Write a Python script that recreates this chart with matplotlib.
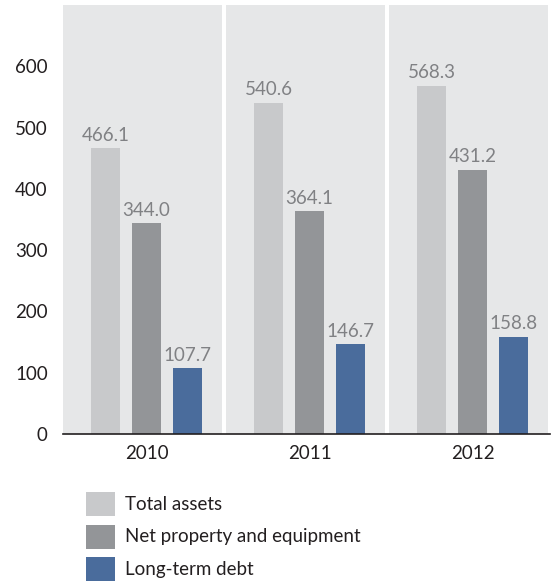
import matplotlib.pyplot as plt
from matplotlib.patches import Rectangle

# data
years = ["2010", "2011", "2012"]
series = ["Total assets", "Net property and equipment", "Long-term debt"]
total_assets = [466.1, 540.6, 568.3]
net_property = [344.0, 364.1, 431.2]
long_term_debt = [107.7, 146.7, 158.8]
yticks = [0, 100, 200, 300, 400, 500, 600]

colors = ["#c8c9cb", "#939598", "#4a6c9c"]
panel_color = "#e6e7e8"
label_color = "#808184"
text_color = "#231f20"
fs = 13.5

plt.rcParams["font.family"] = ["Lato", "DejaVu Sans"]

fig = plt.figure(figsize=(5.55, 5.81), dpi=100)
ax = fig.add_axes([63 / 555, 1 - 434 / 581, 487 / 555, 429 / 581])

# grey panels behind each year
for i in range(len(years)):
    ax.axvspan(i - 0.512, i + 0.465, color=panel_color, lw=0, zorder=0)

width = 0.178
offset = 0.2515
for k, vals in enumerate([total_assets, net_property, long_term_debt]):
    xs = [i + (k - 1) * offset for i in range(len(years))]
    ax.bar(xs, vals, width=width, color=colors[k], zorder=2)
    for x, v in zip(xs, vals):
        ax.text(x, v + 7, f"{v:.1f}", ha="center", va="bottom",
                fontsize=fs, color=label_color)

ax.set_xlim(-0.512, 2.475)
ax.set_ylim(0, 700)
ax.set_yticks(yticks)
ax.set_yticklabels([str(t) for t in yticks], fontsize=fs, color=text_color)
ax.set_xticks(range(len(years)))
ax.set_xticklabels(years, fontsize=fs, color=text_color)
ax.tick_params(length=0)
ax.tick_params(axis="y", pad=11)
ax.tick_params(axis="x", pad=8)
for s in ["top", "right", "left"]:
    ax.spines[s].set_visible(False)
ax.spines["bottom"].set_color(text_color)
ax.spines["bottom"].set_linewidth(1.2)
ax.spines["bottom"].set_zorder(3)
ax.set_facecolor("white")

# legend drawn by hand
for k, name in enumerate(series):
    top = 492 + k * 32.5
    fig.add_artist(Rectangle((86 / 555, 1 - (top + 24) / 581), 29 / 555, 24 / 581,
                             transform=fig.transFigure, color=colors[k], lw=0))
    fig.text(125 / 555, 1 - (top + 12) / 581, name, fontsize=fs,
             color=text_color, va="center", ha="left")

fig.savefig("out.png", dpi=100)
